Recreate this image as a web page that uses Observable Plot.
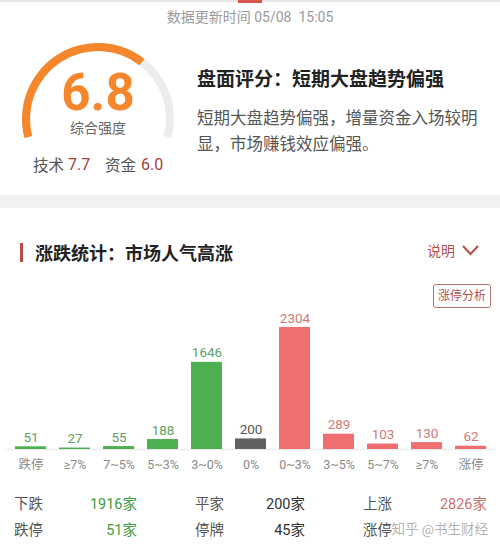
<!DOCTYPE html>
<html>
<head>
<meta charset="utf-8">
<script src="https://cdn.jsdelivr.net/npm/d3@7"></script>
<script src="https://cdn.jsdelivr.net/npm/@observablehq/plot@0.6"></script>
<style>
  html, body { margin: 0; padding: 0; background: #fff; }
  body { width: 500px; height: 552px; position: relative; overflow: hidden;
         font-family: Roboto, "Noto Sans CJK SC", "Noto Sans", sans-serif; }
  .abs { position: absolute; white-space: pre; }
  .c { transform: translate(-50%, -50%); }
  .l { transform: translateY(-50%); }
  .r { transform: translate(-100%, -50%); }
</style>
</head>
<body>
<script>
// ---------- data ----------
const updateTime = "数据更新时间 05/08  15:05";
const scoreTotal = 6.8;
const scoreMax = 10;
const scoreTech = 7.7;
const scoreFund = 6.0;
const panelTitle = "盘面评分：短期大盘趋势偏强";
const panelDesc = ["短期大盘趋势偏强，增量资金入场较明", "显，市场赚钱效应偏强。"];
const sectionTitle = "涨跌统计：市场人气高涨";

const categories = ["跌停", "≥7%", "7~5%", "5~3%", "3~0%", "0%", "0~3%", "3~5%", "5~7%", "≥7%", "涨停"];
const counts = [51, 27, 55, 188, 1646, 200, 2304, 289, 103, 130, 62];
const groups = ["down", "down", "down", "down", "down", "flat", "up", "up", "up", "up", "up"];

const statLabels = [["下跌", "平家", "上涨"], ["跌停", "停牌", "涨停"]];
// the last value is hidden under the watermark in the reference
const statValues = [["1916家", "200家", "2826家"], ["51家", "45家", ""]];
const statGroups = [["down", "flat", "up"], ["down", "flat", "up"]];
const watermark = "知乎 @书生财经";

// ---------- styles ----------
const barColor = {down: "#4caf50", flat: "#616161", up: "#ef6f70"};
const labelColor = {down: "#5fa35f", flat: "#555555", up: "#cf7c79"};
const statColor = {down: "#3e9a3e", flat: "#333333", up: "#c9726f"};

function addDiv(text, x, y, cls, style) {
  const d = document.createElement("div");
  d.className = "abs " + cls;
  d.style.left = x + "px";
  d.style.top = y + "px";
  Object.assign(d.style, style || {});
  d.textContent = text;
  document.body.appendChild(d);
  return d;
}
function addBox(x, y, w, h, style) {
  const d = document.createElement("div");
  d.className = "abs";
  Object.assign(d.style, {left: x + "px", top: y + "px", width: w + "px", height: h + "px"}, style);
  document.body.appendChild(d);
  return d;
}

// top strip
addBox(0, 0, 500, 2, {background: "#e6e6e6"});
addBox(238, 0, 24, 3, {background: "#d9534f"});
addDiv(updateTime, 250, 16, "c", {fontSize: "14px", color: "#9a9a9a"});

// gauge
const g = d3.select(document.body).append("svg")
  .attr("width", 200).attr("height", 190)
  .style("position", "absolute").style("left", "0px").style("top", "0px");
const a0 = -104.5 * Math.PI / 180, a1 = 104.5 * Math.PI / 180;
const arc = d3.arc().innerRadius(68).outerRadius(76);
g.append("path").attr("transform", "translate(98,119)")
  .attr("d", arc({startAngle: a0, endAngle: a1})).attr("fill", "#ececec");
g.append("path").attr("transform", "translate(98,119)")
  .attr("d", arc({startAngle: a0, endAngle: a0 + (a1 - a0) * scoreTotal / scoreMax})).attr("fill", "#f5862b");
addDiv(scoreTotal.toFixed(1), 98, 92, "c", {fontSize: "51px", fontWeight: "bold", color: "#f5862b", fontFamily: "Roboto, sans-serif"});
addDiv("综合强度", 98, 127, "c", {fontSize: "14px", color: "#666"});
addDiv("技术", 33, 164, "l", {fontSize: "15.5px", color: "#555"});
addDiv(scoreTech.toFixed(1), 68, 164, "l", {fontSize: "16px", color: "#a4403d"});
addDiv("资金", 105, 164, "l", {fontSize: "15.5px", color: "#555"});
addDiv(scoreFund.toFixed(1), 141, 164, "l", {fontSize: "16px", color: "#a4403d"});

addDiv(panelTitle, 197, 77, "l", {fontSize: "19px", fontWeight: "bold", color: "#222"});
addDiv(panelDesc[0], 197, 117, "l", {fontSize: "16.5px", color: "#555"});
addDiv(panelDesc[1], 197, 143, "l", {fontSize: "16.5px", color: "#555"});

// separator band
addBox(0, 195, 500, 13, {background: "#f1f1f1"});

// section header
addBox(20, 243, 3, 19, {background: "#b84a47"});
addDiv(sectionTitle, 35, 252, "l", {fontSize: "18px", fontWeight: "bold", color: "#222"});
addDiv("说明", 427, 250, "l", {fontSize: "14px", color: "#b0504d"});
const chev = d3.select(document.body).append("svg").attr("width", 20).attr("height", 14)
  .style("position", "absolute").style("left", "461px").style("top", "244px");
chev.append("polyline").attr("points", "2,2 9.5,10 17,2").attr("fill", "none")
  .attr("stroke", "#b84a47").attr("stroke-width", 2);
const btn = addBox(433, 284, 56, 22, {border: "1.5px solid #b87371", borderRadius: "3px"});
btn.innerHTML = `<div style="text-align:center;line-height:22px;font-size:12px;color:#b0504d">涨停分析</div>`;

// ---------- chart ----------
const data = counts.map((v, i) => ({i, v, g: groups[i]}));
const chart = Plot.plot({
  width: 500,
  height: 180,
  marginLeft: 5,
  marginRight: 5,
  marginTop: 27,
  marginBottom: 31,
  style: {fontFamily: "Roboto, 'Noto Sans CJK SC', sans-serif", fontSize: "12px", background: "transparent", overflow: "visible"},
  x: {domain: d3.range(categories.length), paddingInner: 0.3, paddingOuter: 0.15,
      tickFormat: i => categories[i], tickSize: 0, tickPadding: 11, label: null},
  y: {domain: [0, d3.max(counts)], axis: null},
  color: {type: "identity"},
  marks: [
    Plot.ruleY([0], {stroke: "#ebebeb", strokeWidth: 1.5}),
    Plot.barY(data, {x: "i", y: "v", fill: d => barColor[d.g]}),
    Plot.text(data, {x: "i", y: "v", text: d => String(d.v), lineAnchor: "bottom", dy: -5,
      fill: d => labelColor[d.g], fontSize: 13.5}),
    Plot.axisX({tickSize: 0, tickPadding: 11, tickFormat: i => categories[i], fill: "#8a8a8a", fontSize: 12.5, label: null})
  ]
});
chart.style.position = "absolute";
chart.style.left = "0px";
chart.style.top = "300px";
document.body.appendChild(chart);

// ---------- stats ----------
const labelX = [14, 195, 363];
const valueX = [137, 305, 487];
const rowY = [502, 528];
for (let r = 0; r < 2; r++) {
  for (let c = 0; c < 3; c++) {
    addDiv(statLabels[r][c], labelX[c], rowY[r], "l", {fontSize: "14.5px", color: "#555"});
    if (statValues[r][c]) addDiv(statValues[r][c], valueX[c], rowY[r], "r", {fontSize: "14.5px", color: statColor[statGroups[r][c]]});
  }
}
// watermark
addDiv(watermark, 488, 528, "r", {fontSize: "13.5px", color: "rgba(170,170,170,0.9)",
  textShadow: "0 0 2px #fff, 0 0 3px #fff"});
</script>
</body>
</html>
